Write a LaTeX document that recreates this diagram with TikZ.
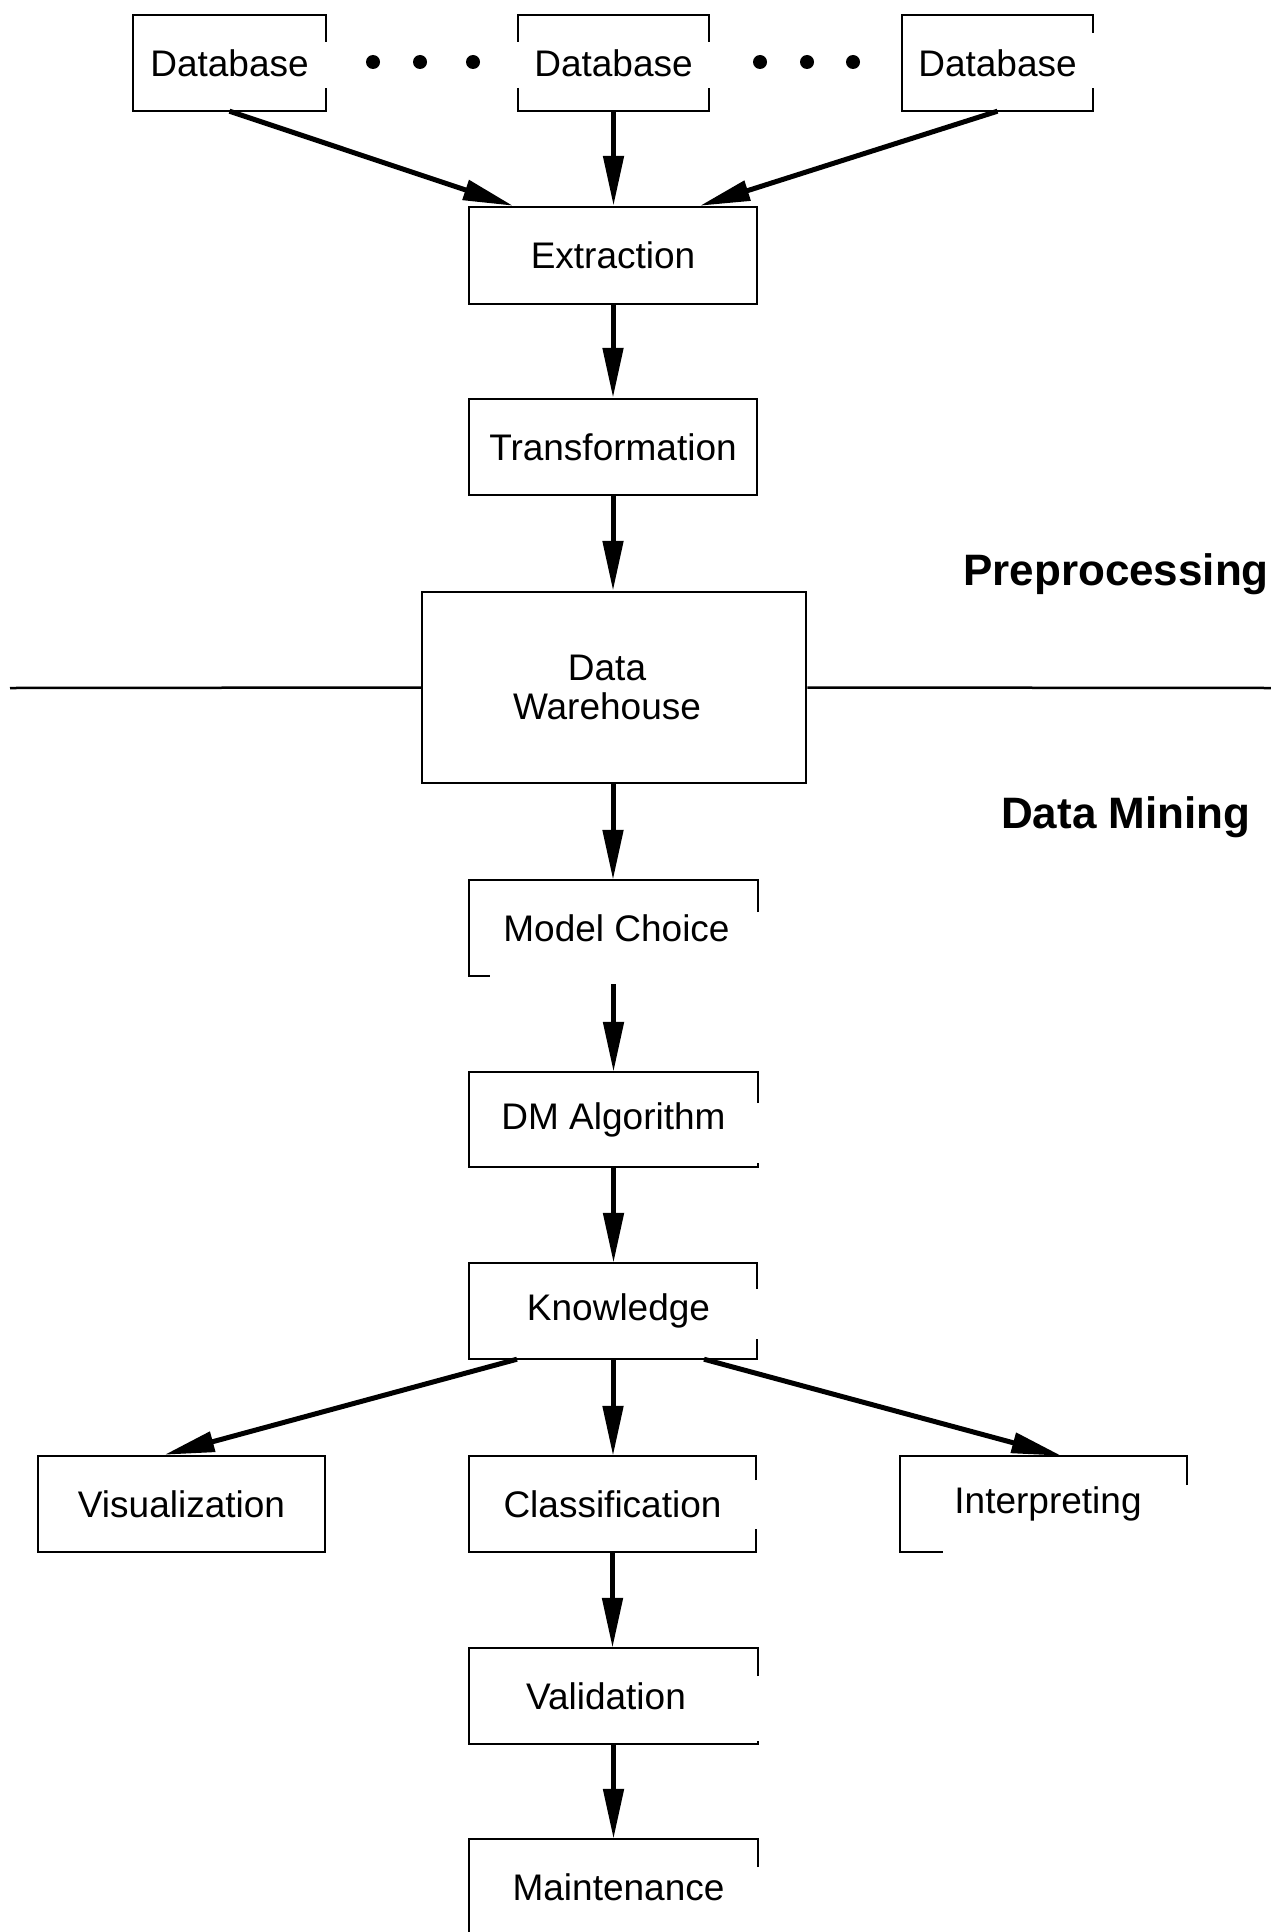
\documentclass[tikz,border=0pt]{standalone}
\usepackage{fontspec}
\setmainfont{Liberation Sans}
\usetikzlibrary{arrows.meta,calc}
\tikzset{
  box/.style={rectangle, inner sep=0pt, font=\fontsize{37}{39}\selectfont, align=center},
  fullbox/.style={box, draw, line width=2.5pt},
  border/.style={line width=2.5pt},
  conn/.style={line width=5pt, -{Triangle[length=50pt,width=20pt]}},
  lbl/.style={font=\fontsize{44}{48}\selectfont\bfseries, anchor=base west, inner sep=0pt}
}
\begin{document}
\begin{tikzpicture}[x=1pt,y=-1pt]
\useasboundingbox (0,0) rectangle (1271,1932);
% nodes
\node[box, minimum width=193pt, minimum height=96pt] (db1) at (229.5,63) {Database};
\node[box, minimum width=191pt, minimum height=96pt] (db2) at (613.5,63) {Database};
\node[box, minimum width=191pt, minimum height=96pt] (db3) at (997.5,63) {Database};
\node[fullbox, minimum width=288pt, minimum height=97pt] (ext) at (613,255.5) {Extraction};
\node[fullbox, minimum width=288pt, minimum height=96pt] (tra) at (613,447) {Transformation};
\node[fullbox, minimum width=384pt, minimum height=191pt] (dw) at (614,687.5) {Data\hspace*{14pt}\\Warehouse\hspace*{14pt}};
\node[box, minimum width=289pt, minimum height=96pt] (mc) at (613.5,928) {\hspace*{6pt}Model Choice};
\node[box, minimum width=289pt, minimum height=95pt] (dm) at (613.5,1119.5) {DM Algorithm};
\node[box, minimum width=288pt, minimum height=96pt] (kn) at (613,1311) {\hspace*{11pt}Knowledge};
\node[fullbox, minimum width=287pt, minimum height=96pt] (vis) at (181.5,1504) {Visualization};
\node[box, minimum width=287pt, minimum height=96pt] (cls) at (612.5,1504) {Classification};
\node[box, minimum width=287pt, minimum height=96pt] (int) at (1043.5,1504) {\hspace*{9pt}Interpreting};
\node[box, minimum width=289pt, minimum height=96pt] (val) at (613.5,1696) {Validation\hspace*{15pt}};
\node[box, minimum width=289pt, minimum height=96pt] (mnt) at (613.5,1887) {\hspace*{10pt}Maintenance};
% partial borders
\draw[border] (326,42) -- (326,15) -- (133,15) -- (133,111) -- (326,111) -- (326,88);
\draw[border] (518,42) -- (518,15) -- (709,15) -- (709,42);
\draw[border] (518,88) -- (518,111) -- (709,111) -- (709,88);
\draw[border] (1093,33) -- (1093,15) -- (902,15) -- (902,111) -- (1093,111) -- (1093,88);
\draw[border] (758,912) -- (758,880) -- (469,880) -- (469,976) -- (490,976);
\draw[border] (758,1103) -- (758,1072) -- (469,1072) -- (469,1167) -- (758,1167) -- (758,1163);
\draw[border] (757,1289) -- (757,1263) -- (469,1263) -- (469,1359) -- (757,1359) -- (757,1339);
\draw[border] (756,1480) -- (756,1456) -- (469,1456) -- (469,1552) -- (756,1552) -- (756,1529);
\draw[border] (1187,1485) -- (1187,1456) -- (900,1456) -- (900,1552) -- (943,1552);
\draw[border] (758,1676) -- (758,1648) -- (469,1648) -- (469,1744) -- (758,1744) -- (758,1741);
\draw[border] (758,1867) -- (758,1839) -- (469,1839) -- (469,1932);
% dots
\foreach \dx in {373,420,473,760,807,853} \fill (\dx,62) circle (7pt);
% separator line
\coordinate (lend) at (10,688);
\coordinate (rend) at (1271,688);
\draw[border] (lend) -- (dw.west);
\draw[border] (dw.east) -- (rend);
% labels
\node[lbl] (pre) at (963,585) {Preprocessing};
\node[lbl] (dmn) at (1001,828) {Data Mining};
% connectors
\draw[conn] (db1.south) -- ($(ext.north)+(-100,0)$);
\draw[conn] (db2.south) -- (db2.south |- ext.north);
\draw[conn] (db3.south) -- ($(ext.north)+(87,0)$);
\draw[conn] (ext.south) -- (tra.north);
\draw[conn] (tra.south) -- (tra.south |- dw.north);
\draw[conn] (tra.south |- dw.south) -- (tra.south |- mc.north);
\draw[conn] ($(mc.south)+(0,8)$) -- (dm.north);
\draw[conn] (dm.south) -- (dm.south |- kn.north);
\draw[conn] (kn.south) -- (kn.south |- cls.north);
\draw[conn] ($(kn.south)+(-96,0)$) -- ($(vis.north)+(-17,0)$);
\draw[conn] ($(kn.south)+(91,0)$) -- ($(int.north)+(18,0)$);
\draw[conn] (cls.south) -- (cls.south |- val.north);
\draw[conn] (val.south) -- (mnt.north);
\end{tikzpicture}
\end{document}
